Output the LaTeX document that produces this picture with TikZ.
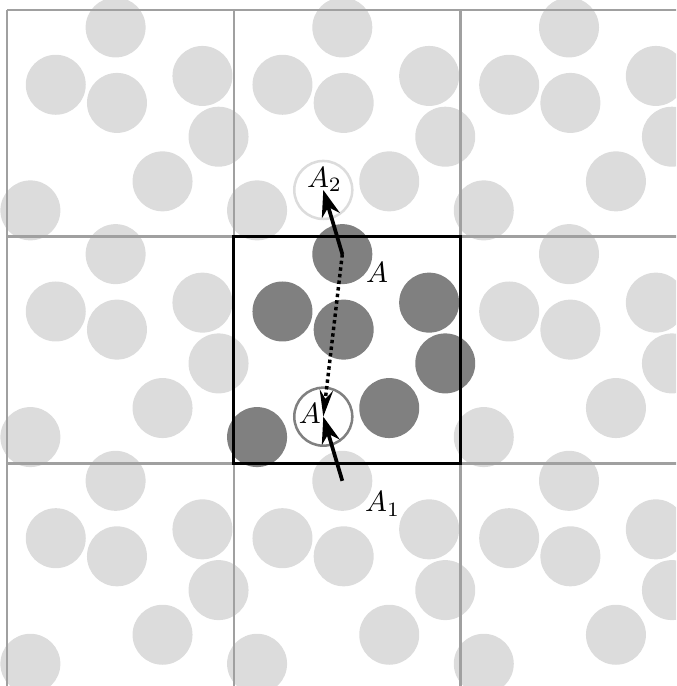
\documentclass[tikz,border=0pt]{standalone}
\usepackage{amsmath}
\usepackage{xcolor}
\usepackage{tikz}
\usetikzlibrary{arrows.meta}
\definecolor{cellline}{HTML}{A0A0A0}
\definecolor{ghost}{HTML}{DCDCDC}
\definecolor{particle}{HTML}{808080}

\begin{document}
\begin{tikzpicture}[x=3cm, y=3cm,
    image/.style={fill=ghost},
    real/.style={fill=particle},
    move/.style={-{Stealth[length=10pt, width=7pt]}, line width=1.4pt},
    wrap/.style={dash pattern=on 1.3pt off 1.2pt, line width=1.3pt, -{Stealth[length=10pt, width=5pt]}},
    lab/.style={anchor=base west, inner sep=0pt, scale=1.1}]
    % Visible window of the periodic system
    \useasboundingbox (-0.032,0.018) rectangle (2.950,3.044);
    \clip (-0.032,0.018) rectangle (2.950,3.044);

    % Periodic images in the neighbouring cells
    \foreach \i/\j in {0/0, 1/0, 2/0, 0/1, 2/1, 0/2, 1/2, 2/2} {
        \foreach \px/\py in {0.478/0.923, 0.214/0.670, 0.484/0.590, 0.861/0.709, 0.932/0.441, 0.685/0.244, 0.102/0.116} {
            \fill[image] (\i+\px, \j+\py) circle (0.1323);
        }
    }

    % Particles of the simulation box
    \foreach \px/\py in {0.478/0.923, 0.214/0.670, 0.484/0.590, 0.861/0.709, 0.932/0.441, 0.685/0.244, 0.102/0.116} {
        \fill[real] (1+\px, 1+\py) circle (0.1323);
    }

    % Cells and the simulation box
    \draw[cellline, line width=0.9pt, step=3cm] (0,0) grid (3,3);
    \draw[line width=1.1pt] (1,1) rectangle (2,2);

    % Positions before and after the move
    \coordinate (A) at (1.478,1.923);
    \coordinate (A1) at (1.478,0.923);
    \coordinate (Ap) at (1.394,1.206);
    \coordinate (A2) at (1.394,2.206);
    \draw[particle, line width=0.95pt, fill=white] (Ap) circle (0.128);
    \draw[ghost, line width=0.95pt, fill=white] (A2) circle (0.128);

    % Moves
    \draw[wrap] (A) -- (Ap);
    \draw[move] (A) -- (A2);
    \draw[move] (A1) -- (Ap);

    % Labels
    \node[lab] (labA2) at (1.320,2.219) {$A_2$};
    \node[lab] (labA) at (1.580,1.796) {$A$};
    \node[lab] (labAp) at (1.284,1.174) {$A$};
    \node[lab] (labA1) at (1.576,0.787) {$A_1$};
\end{tikzpicture}
\end{document}
